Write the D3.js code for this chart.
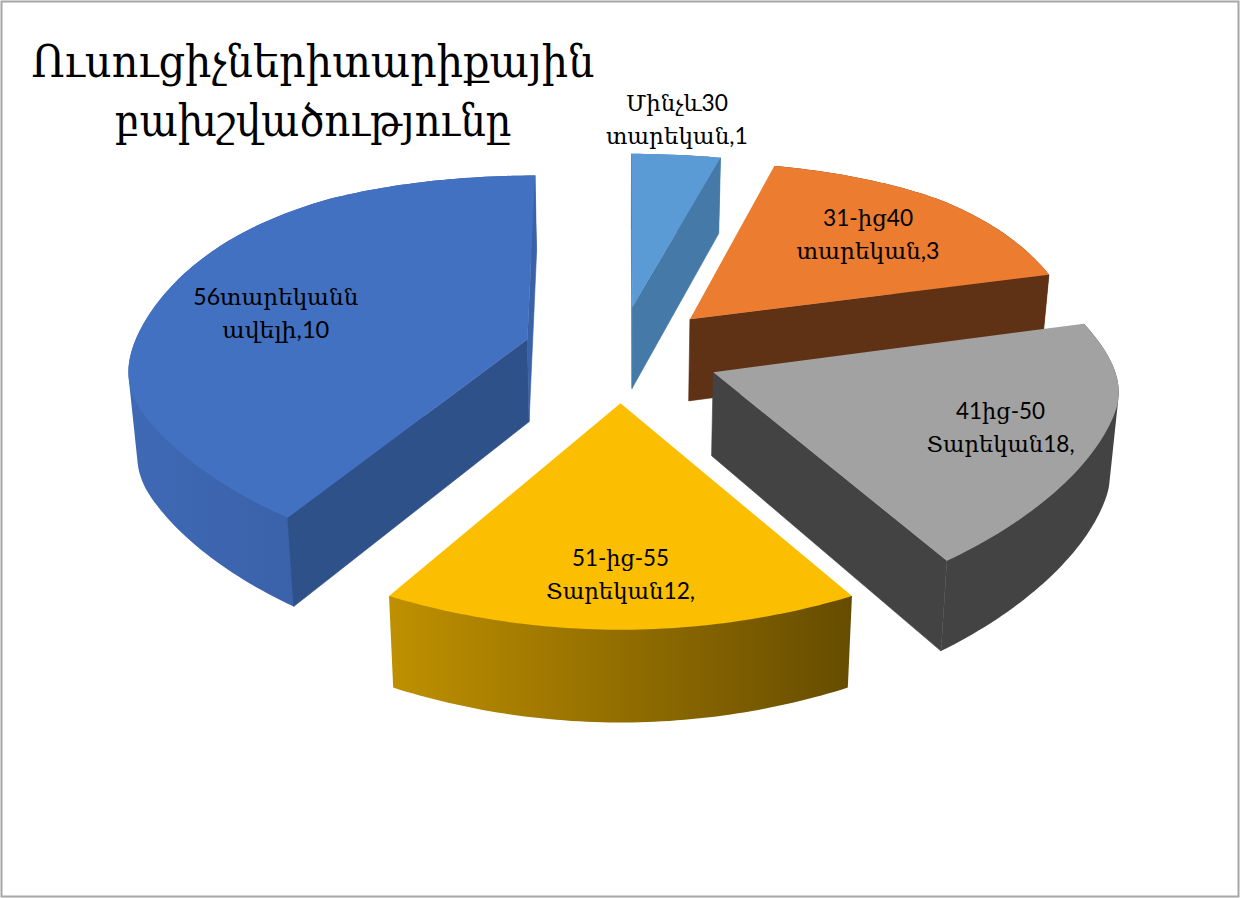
<!DOCTYPE html>
<html>
<head>
<meta charset="utf-8">
<script src="https://cdn.jsdelivr.net/npm/d3@7"></script>
<style>
  body { margin: 0; background: #fff; }
  text { fill: #000; text-anchor: middle; }
</style>
</head>
<body>
<div id="chart"></div>
<script>
const width = 1240, height = 898;

// slice shares as drawn (percent), the printed labels say something else
const shares = [4, 17, 19, 20, 40];
const explodeBy = [100, 104, 100, 93, 102];
const labelLine1 = ["Մինչև30", "31-ից40", "41ից-50", "51-ից-55", "56տարեկանն"];
const labelLine2 = ["տարեկան,1", "տարեկան,3", "Տարեկան18,", "Տարեկան12,", "ավելի,10"];
const titleLines = ["Ուսուցիչներիտարիքային", "բախշվածությունը"];

const topColors = ["#5b9bd5", "#ec7c30", "#a2a2a2", "#fcbe00", "#4371c1"];
const startWall = ["#4579a8", "#5f3115", "#434343", "#bf9000", "#2f5189"];
const endWall = ["#4579a8", "#5f3115", "#434343", "#664c00", "#3a62a9"];
const rimFrom = ["#4579a8", "#5f3115", "#434343", "#bf9000", "#3f69b5"];
const rimTo = ["#4579a8", "#5f3115", "#434343", "#664c00", "#34589a"];

// where the label sits on each slice: polar degrees and fraction of radius
const labelAngle = [6, 48.5, 113, 180, 278];
const labelRadius = [1.22, 0.66, 0.762, 0.742, 0.662];
const line1Width = [102, 90, 89, 97, 165];
const line2Width = [142, 143, 148, 149, 107];
const titleWidth = [563, 397];

const cx = 620.5, cy = 355;
const rx = 408, ry = 395;
const drawOrder = [0, 1, 4, 2, 3];

const svg = d3.select("#chart").append("svg")
  .attr("width", width)
  .attr("height", height);

const defs = svg.append("defs");

svg.append("rect")
  .attr("x", 1.5).attr("y", 1.5)
  .attr("width", width - 3).attr("height", height - 3)
  .attr("fill", "#fff")
  .attr("stroke", "#a6a6a6")
  .attr("stroke-width", 2);

// flat plane -> screen, hand fitted perspective. Y grows towards the viewer
function xScale(Y) {
  const u = Y - 110;
  if (u < 0) return 1 - 0.14 * u * u / (u * u + 50000);
  return 1 - 3.8e-7 * u * u;
}

function project(X, Y, lower) {
  const x = cx + X * xScale(Y);
  let y = cy + 0.5 * Y / (1 - 0.0004 * Y);
  if (y < 200) y = 200 + (y - 200) * 0.9;
  if (y > 587) y = 587 + (y - 587) * 0.6;
  if (!lower) return [x, y];
  const depth = 83.5 + (y - 372) * 0.036;
  return [cx + (x - cx) * 0.982, y + depth];
}

const pie = d3.pie().sort(null).value(d => d);
const arcs = pie(shares);
const line = d3.line();

function polar(arc, angle, f, lower) {
  const mid = (arc.startAngle + arc.endAngle) / 2;
  const e = explodeBy[arc.index];
  const X = e * Math.sin(mid) + rx * f * Math.sin(angle);
  const Y = -e * Math.cos(mid) - ry * f * Math.cos(angle);
  return project(X, Y, lower);
}

function rimAngles(arc) {
  const n = Math.ceil((arc.endAngle - arc.startAngle) / 0.02);
  return d3.range(n + 1).map(i => arc.startAngle + (arc.endAngle - arc.startAngle) * i / n);
}

function wallVisible(p, q, lowerP) {
  const dx = q[0] - p[0], dy = q[1] - p[1];
  return (lowerP[0] - p[0]) * dy - (lowerP[1] - p[1]) * dx > 0;
}

drawOrder.forEach(i => {
  const arc = arcs[i];
  const angles = rimAngles(arc);
  const upper = angles.map(a => polar(arc, a, 1, false));
  const lower = angles.map(a => polar(arc, a, 1, true));
  const apex = polar(arc, 0, 0, false);
  const apexLow = polar(arc, 0, 0, true);
  const g = svg.append("g").attr("class", "slice");

  const grad = defs.append("linearGradient")
    .attr("id", "rim" + i)
    .attr("gradientUnits", "userSpaceOnUse")
    .attr("x1", d3.min(upper, d => d[0])).attr("y1", 0)
    .attr("x2", d3.max(upper, d => d[0])).attr("y2", 0);
  grad.append("stop").attr("offset", 0).attr("stop-color", rimFrom[i]);
  grad.append("stop").attr("offset", 1).attr("stop-color", rimTo[i]);

  // outer curved wall. every slice is under 180 degrees, so the hull of the
  // two rims stays inside the slice outline and the rest gets painted over
  g.append("path")
    .attr("d", line(d3.polygonHull(upper.concat(lower))) + "Z")
    .attr("fill", "url(#rim" + i + ")");

  // the two flat cut walls, only when they face the camera
  const first = upper[0], last = upper[upper.length - 1];
  if (wallVisible(apex, first, apexLow)) {
    g.append("path")
      .attr("d", line([apex, first, lower[0], apexLow]) + "Z")
      .attr("fill", startWall[i])
      .attr("stroke", startWall[i])
      .attr("stroke-width", 0.6);
  }
  if (wallVisible(last, apex, lower[lower.length - 1])) {
    g.append("path")
      .attr("d", line([last, apex, apexLow, lower[lower.length - 1]]) + "Z")
      .attr("fill", endWall[i])
      .attr("stroke", endWall[i])
      .attr("stroke-width", 0.6);
  }

  g.append("path")
    .attr("d", line([apex].concat(upper)) + "Z")
    .attr("fill", topColors[i]);
});

// data labels
arcs.forEach((arc, i) => {
  const p = polar(arc, labelAngle[i] * Math.PI / 180, labelRadius[i], false);
  const t = svg.append("text")
    .attr("font-family", "Lato, 'DejaVu Serif', serif")
    .attr("font-size", 23);
  t.append("tspan").attr("x", p[0]).attr("y", p[1] - 17).text(labelLine1[i])
    .attr("textLength", line1Width[i]).attr("lengthAdjust", "spacingAndGlyphs");
  t.append("tspan").attr("x", p[0]).attr("y", p[1] + 16).text(labelLine2[i])
    .attr("textLength", line2Width[i]).attr("lengthAdjust", "spacingAndGlyphs");
});

svg.selectAll(".title")
  .data(titleLines)
  .enter().append("text")
  .attr("class", "title")
  .attr("x", 313)
  .attr("y", (d, i) => 77 + i * 59)
  .attr("font-family", "'DejaVu Serif', serif")
  .attr("font-size", 44)
  .attr("textLength", (d, i) => titleWidth[i])
  .attr("lengthAdjust", "spacingAndGlyphs")
  .text(d => d);
</script>
</body>
</html>
